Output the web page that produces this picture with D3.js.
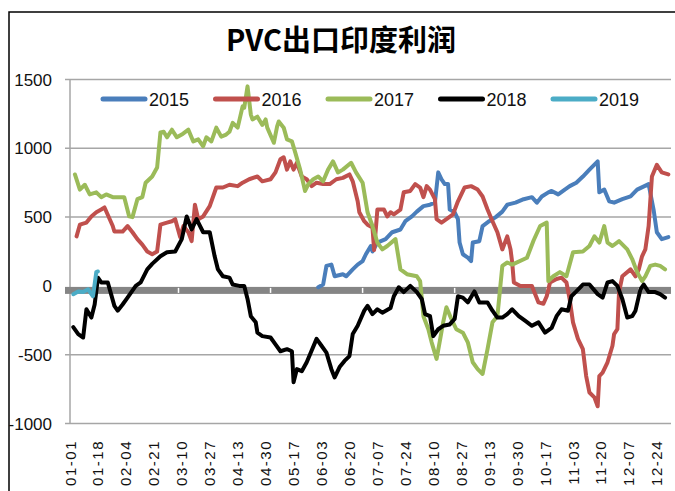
<!DOCTYPE html>
<html>
<head>
<meta charset="utf-8">
<script src="https://cdn.jsdelivr.net/npm/d3@7"></script>
<style>
  body { margin: 0; background: #fff; }
  svg { display: block; }
</style>
</head>
<body>
<div id="chart"></div>
<script>
// day of year (0 = 01-01) and profit value
const s2015 = [[151,-10],[154,10],[156,145],[159,155],[161,70],[166,85],[168,70],[172,120],[175,155],[178,180],[180,230],[183,290],[184,250],[187,315],[192,340],[196,390],[201,410],[204,470],[208,505],[211,540],[215,580],[219,590],[222,605],[224,825],[226,775],[228,740],[230,740],[231,555],[234,535],[236,485],[237,315],[239,230],[242,205],[244,180],[245,315],[249,325],[251,435],[255,470],[259,500],[263,540],[266,590],[271,605],[276,630],[281,645],[284,605],[287,650],[291,680],[293,690],[297,665],[301,700],[304,725],[308,750],[312,795],[316,845],[321,905],[322,680],[325,700],[328,615],[331,605],[336,630],[341,650],[345,700],[352,740],[355,555],[357,390],[360,340],[364,355]];
const s2016 = [[4,360],[6,445],[10,460],[13,505],[16,535],[19,555],[21,570],[26,435],[27,395],[32,395],[35,435],[38,390],[41,340],[44,300],[47,250],[50,230],[53,250],[55,445],[59,460],[62,470],[64,485],[67,355],[69,435],[72,390],[74,325],[76,590],[78,485],[81,505],[85,580],[89,715],[93,715],[97,735],[102,725],[105,750],[109,775],[114,795],[117,760],[122,775],[125,825],[128,920],[130,935],[132,845],[134,905],[136,845],[138,895],[141,795],[144,775],[147,725],[150,750],[154,740],[158,740],[162,775],[166,785],[170,810],[172,760],[175,615],[176,535],[179,470],[181,445],[184,425],[185,260],[187,555],[191,555],[193,505],[195,535],[197,520],[201,555],[203,680],[207,690],[210,740],[213,715],[215,645],[217,725],[219,700],[222,630],[223,485],[226,460],[229,485],[233,520],[236,615],[240,715],[244,725],[248,700],[251,650],[254,555],[257,470],[260,390],[263,265],[266,360],[268,265],[269,170],[270,25],[274,0],[281,0],[285,-120],[288,-130],[290,-75],[292,25],[296,50],[299,60],[302,25],[304,-100],[306,-265],[309,-385],[312,-460],[314,-655],[316,-775],[319,-810],[321,-875],[322,-655],[324,-630],[327,-555],[330,-435],[331,-350],[333,-315],[334,-45],[336,70],[341,120],[344,70],[346,120],[348,215],[350,265],[352,435],[354,795],[357,880],[360,825],[364,810]];
const s2017 = [[3,810],[6,700],[9,735],[12,665],[16,680],[19,645],[22,665],[26,645],[33,645],[36,505],[38,500],[41,630],[44,645],[46,750],[50,795],[53,860],[55,1115],[57,1120],[59,1080],[62,1135],[65,1080],[68,1100],[72,1135],[75,1050],[78,1065],[81,1015],[83,1080],[86,1050],[89,1150],[92,1085],[95,1100],[97,1120],[99,1185],[102,1150],[105,1305],[106,1295],[108,1450],[110,1245],[111,1210],[114,1230],[117,1170],[119,1210],[120,1150],[124,1040],[126,1160],[127,1195],[130,1150],[132,1065],[135,1050],[137,970],[140,845],[143,690],[145,740],[148,775],[151,795],[154,760],[157,845],[160,905],[163,825],[166,845],[171,895],[174,825],[178,750],[181,535],[184,435],[187,315],[190,265],[193,290],[198,340],[201,120],[205,85],[211,70],[213,35],[215,-220],[218,-315],[220,-410],[223,-530],[225,-400],[227,-265],[229,-155],[232,-240],[235,-315],[239,-340],[242,-410],[245,-555],[248,-605],[251,-640],[254,-460],[257,-265],[260,-220],[263,145],[266,170],[269,155],[278,205],[282,330],[286,435],[290,460],[291,35],[294,70],[298,100],[302,70],[306,245],[312,250],[316,290],[319,360],[322,315],[325,435],[327,315],[330,290],[334,325],[339,265],[342,195],[345,100],[348,35],[350,70],[353,145],[356,155],[359,145],[362,120]];
const s2018 = [[2,-300],[5,-350],[8,-375],[10,-170],[13,-230],[15,-135],[17,60],[19,25],[23,25],[27,-145],[29,-180],[32,-135],[35,-85],[40,0],[43,25],[47,120],[50,160],[55,215],[59,245],[64,250],[68,340],[71,505],[74,410],[77,485],[81,390],[85,390],[88,215],[90,120],[93,70],[97,60],[99,10],[103,0],[106,0],[108,-95],[110,-220],[113,-265],[114,-340],[117,-365],[122,-375],[125,-425],[128,-475],[132,-460],[135,-475],[136,-700],[138,-605],[141,-620],[144,-555],[150,-385],[153,-435],[156,-485],[159,-605],[161,-665],[164,-590],[167,-545],[170,-510],[172,-350],[175,-290],[179,-180],[181,-145],[184,-205],[187,-170],[190,-195],[195,-160],[197,-75],[200,-10],[203,-45],[207,0],[211,-45],[214,-95],[216,-205],[219,-220],[221,-365],[224,-315],[227,-290],[231,-280],[234,-240],[236,-75],[239,-85],[242,-120],[246,-40],[249,-120],[254,-120],[257,-180],[260,-230],[263,-230],[266,-205],[269,-170],[273,-220],[277,-255],[281,-290],[285,-265],[289,-340],[293,-305],[296,-220],[299,-170],[303,-180],[305,-75],[308,-40],[312,10],[316,10],[321,-60],[324,-85],[327,25],[330,35],[333,0],[336,-95],[339,-230],[342,-220],[344,-180],[347,-25],[349,10],[352,-45],[356,-45],[359,-60],[362,-85]];
const s2019 = [[2,-60],[5,-40],[8,-45],[11,-25],[14,-75],[16,100],[17,105]];

const seriesNames = ["2015", "2016", "2017", "2018", "2019"];
const seriesData = [s2015, s2016, s2017, s2018, s2019];
const colors = ["#4a7ebb", "#c0504d", "#9bbb59", "#000000", "#4bacc6"];

const yTicks = [1500, 1000, 500, 0, -500, -1000];
const xLabels = ["01-01","01-18","02-04","02-21","03-10","03-27","04-13","04-30","05-17","06-03","06-20","07-07","07-24","08-10","08-27","09-13","09-30","10-17","11-03","11-20","12-07","12-24"];
const xLabelDays = xLabels.map((d, i) => i * 17);
const tickDays = [66, 122, 178, 234, 290, 346];

const width = 675, height = 491;
const plot = { left: 70, right: 670, top: 79.5, bottom: 423.5 };

const x = d3.scaleLinear().domain([0, 365]).range([plot.left, plot.right]);
const y = d3.scaleLinear().domain([-1000, 1500]).range([plot.bottom, plot.top]);

const svg = d3.select("#chart").append("svg")
    .attr("width", width)
    .attr("height", height);

// chart area border (runs off the right and bottom of the picture)
svg.append("path")
    .attr("d", "M9,495V12H680")
    .attr("fill", "none")
    .attr("stroke", "#000")
    .attr("stroke-width", 1.5);

// title
svg.append("text")
    .attr("x", 341)
    .attr("y", 51)
    .attr("text-anchor", "middle")
    .style("font-family", "'Noto Sans CJK SC', sans-serif")
    .style("font-weight", "bold")
    .style("font-size", "29px")
    .text("PVC出口印度利润");

// grid lines
svg.append("g")
    .selectAll("line")
    .data(yTicks.filter(d => d !== 0))
    .join("line")
    .attr("x1", plot.left - 5)
    .attr("x2", plot.right + 1)
    .attr("y1", d => y(d))
    .attr("y2", d => y(d))
    .attr("stroke", "#a6a6a6")
    .attr("stroke-width", 1.5);

// left axis line
svg.append("line")
    .attr("x1", plot.left).attr("x2", plot.left)
    .attr("y1", plot.top).attr("y2", plot.bottom)
    .attr("stroke", "#a6a6a6")
    .attr("stroke-width", 1.5);

// thick zero axis with white tick marks
svg.append("rect")
    .attr("x", plot.left - 5)
    .attr("y", y(0) + 1)
    .attr("width", plot.right - plot.left + 6)
    .attr("height", 7)
    .attr("fill", "#858585");
svg.append("g")
    .selectAll("line")
    .data(tickDays)
    .join("line")
    .attr("x1", d => x(d)).attr("x2", d => x(d))
    .attr("y1", y(0) + 2).attr("y2", y(0) + 7)
    .attr("stroke", "#fff")
    .attr("stroke-width", 1.5);

// y labels
svg.append("g")
    .selectAll("text")
    .data(yTicks)
    .join("text")
    .attr("x", 52)
    .attr("y", d => y(d) + 6)
    .attr("text-anchor", "end")
    .style("font-family", "'Liberation Sans', Arial, sans-serif")
    .style("font-size", "17px")
    .attr("fill", "#111")
    .text(d => d);

// x labels, rotated; they run off the bottom like in the original
svg.append("g")
    .selectAll("text")
    .data(xLabels)
    .join("text")
    .attr("transform", (d, i) => `translate(${x(xLabelDays[i]) + 5.5},440) rotate(-90)`)
    .attr("text-anchor", "end")
    .style("font-family", "'Liberation Sans', Arial, sans-serif")
    .style("font-size", "15px")
    .style("letter-spacing", "1.5px")
    .attr("fill", "#111")
    .text(d => d);

// series
const line = d3.line()
    .x(d => x(d[0]))
    .y(d => y(d[1]));

svg.append("g")
    .selectAll("path")
    .data(seriesData)
    .join("path")
    .attr("d", line)
    .attr("fill", "none")
    .attr("stroke", (d, i) => colors[i])
    .attr("stroke-width", 4)
    .attr("stroke-linejoin", "round")
    .attr("stroke-linecap", "round");

// legend
const legend = svg.append("g")
    .selectAll("g")
    .data(seriesNames)
    .join("g")
    .attr("transform", (d, i) => `translate(${103 + i * 112.5},99)`);

legend.append("line")
    .attr("x1", 0).attr("x2", 42)
    .attr("y1", 0).attr("y2", 0)
    .attr("stroke", (d, i) => colors[i])
    .attr("stroke-width", 5)
    .attr("stroke-linecap", "round");

legend.append("text")
    .attr("x", 46)
    .attr("y", 6.5)
    .style("font-family", "'Liberation Sans', Arial, sans-serif")
    .style("font-size", "18px")
    .attr("fill", "#111")
    .text(d => d);
</script>
</body>
</html>
